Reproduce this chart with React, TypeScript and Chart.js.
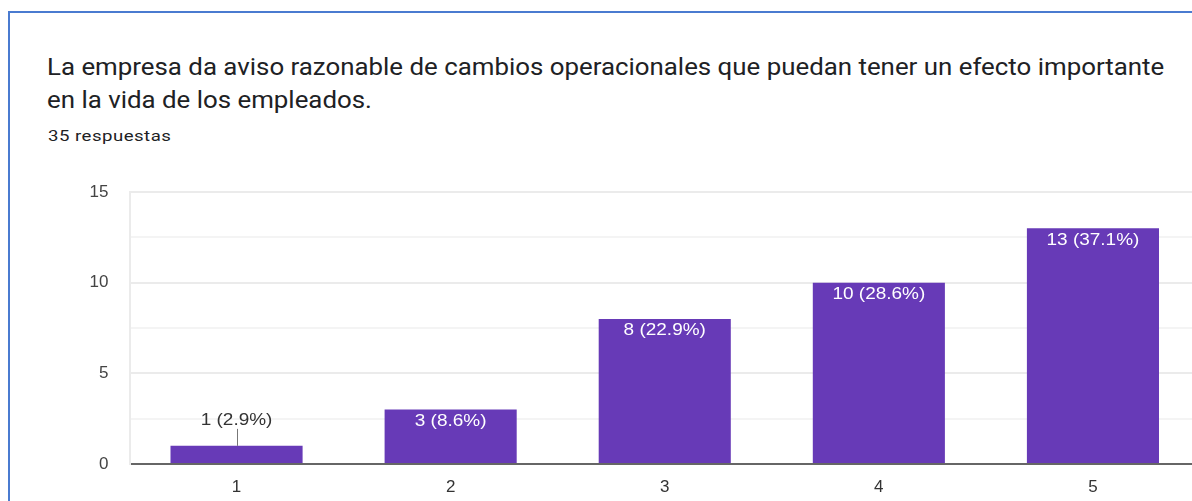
import React, { useEffect, useRef } from "react";
import { Chart, registerables } from "chart.js";

Chart.register(...registerables);

const categories = ["1", "2", "3", "4", "5"];
const counts = [1, 3, 8, 10, 13];
const percents = ["2.9%", "8.6%", "22.9%", "28.6%", "37.1%"];
const yTickValues = [0, 5, 10, 15];
const titleLines = [
  "La empresa da aviso razonable de cambios operacionales que puedan tener un efecto importante",
  "en la vida de los empleados.",
];
const subtitle = "35 respuestas";

const BAR_COLOR = "#673ab7";
const FONT = '"Liberation Sans", Arial, sans-serif';

const labelPlugin = {
  id: "barLabels",
  afterDatasetsDraw(chart: any) {
    const { ctx } = chart;
    const meta = chart.getDatasetMeta(0);
    meta.data.forEach((bar: any, i: number) => {
      const text = `${counts[i]} (${percents[i]})`;
      const h = bar.base - bar.y;
      ctx.save();
      ctx.font = `16.5px ${FONT}`;
      ctx.textAlign = "center";
      ctx.textBaseline = "middle";
      if (h > 30) {
        ctx.translate(bar.x, bar.y + 12);
        ctx.scale(1.15, 1);
        ctx.fillStyle = "#ffffff";
        ctx.fillText(text, 0, 0);
      } else {
        ctx.strokeStyle = "#777777";
        ctx.lineWidth = 1;
        ctx.beginPath();
        ctx.moveTo(Math.round(bar.x) + 0.5, bar.y - 17);
        ctx.lineTo(Math.round(bar.x) + 0.5, bar.y);
        ctx.stroke();
        ctx.translate(bar.x, bar.y - 25);
        ctx.scale(1.15, 1);
        ctx.fillStyle = "#333333";
        ctx.fillText(text, 0, 0);
      }
      ctx.restore();
    });
  },
};

function App() {
  const ref = useRef<HTMLCanvasElement | null>(null);
  useEffect(() => {
    if (!ref.current) return;
    const chart = new Chart(ref.current, {
      type: "bar",
      data: {
        labels: categories,
        datasets: [
          {
            data: counts,
            backgroundColor: BAR_COLOR,
            borderWidth: 0,
            categoryPercentage: 1,
            barPercentage: 0.617,
          },
        ],
      },
      options: {
        animation: false,
        responsive: false,
        maintainAspectRatio: false,
        layout: { padding: { left: 0, top: 192, right: 60, bottom: 0 } },
        plugins: {
          legend: { display: false },
          tooltip: { enabled: false },
          title: { display: false },
        },
        scales: {
          x: {
            grid: { display: false, drawTicks: false },
            border: { display: true, color: "#666666", width: 2 },
            ticks: {
              color: "#333333",
              font: { family: FONT, size: 17 },
              padding: 13,
            },
            afterFit: (s: any) => {
              s.height = 37;
            },
          },
          y: {
            min: 0,
            max: 15,
            afterBuildTicks: (s: any) => {
              const t: any[] = [];
              for (let v = 0; v <= 15; v += 2.5) t.push({ value: v });
              s.ticks = t;
            },
            grid: {
              drawTicks: false,
              color: (c: any) =>
                yTickValues.includes(c.tick?.value) ? "#ebebeb" : "#f4f4f4",
              lineWidth: 2,
            },
            border: { display: true, color: "#ebebeb", width: 2 },
            ticks: {
              color: "#444444",
              font: { family: FONT, size: 17 },
              padding: 21,
              callback: (v: any) => (yTickValues.includes(Number(v)) ? String(v) : ""),
            },
            afterFit: (s: any) => {
              s.width = 129.5;
            },
          },
        },
      },
      plugins: [labelPlugin],
    });
    return () => chart.destroy();
  }, []);

  return (
    <div
      style={{
        position: "fixed",
        left: 0,
        top: 0,
        width: 1192,
        height: 501,
        overflow: "hidden",
        background: "#ffffff",
      }}
    >
      <div
        style={{
          position: "absolute",
          left: 8,
          top: 11,
          width: 1300,
          height: 600,
          border: "2px solid #4a7bd0",
          boxSizing: "border-box",
        }}
      />
      <div
        style={{
          position: "absolute",
          left: 47,
          top: 50,
          fontFamily: "Roboto, sans-serif",
          fontSize: 24.5,
          lineHeight: "33.3px",
          color: "#202124",
          whiteSpace: "nowrap",
          transform: "scaleX(1.055)",
          transformOrigin: "0 0",
        }}
      >
        {titleLines.map((l, i) => (
          <div key={i}>{l}</div>
        ))}
      </div>
      <div
        style={{
          position: "absolute",
          left: 48,
          top: 126,
          fontFamily: "Roboto, sans-serif",
          fontSize: 15.5,
          letterSpacing: "0.4px",
          lineHeight: "20px",
          color: "#202124",
          whiteSpace: "nowrap",
          transform: "scaleX(1.2)",
          transformOrigin: "0 0",
        }}
      >
        {subtitle}
      </div>
      <canvas
        ref={ref}
        width={1260}
        height={501}
        style={{ position: "absolute", left: 0, top: 0, width: 1260, height: 501 }}
      />
    </div>
  );
}

export default App;
